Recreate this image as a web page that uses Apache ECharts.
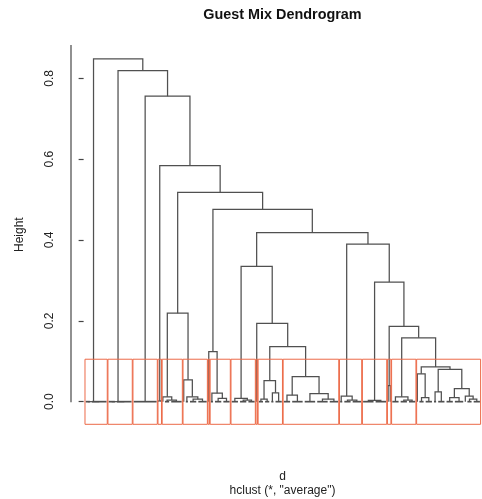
<!DOCTYPE html>
<html><head><meta charset="utf-8">
<script src="https://cdn.jsdelivr.net/npm/echarts@6/dist/echarts.min.js"></script>
<style>html,body{margin:0;padding:0;background:#fff}#c{width:482px;height:499px}</style>
</head><body><div id="c"></div>
<script>
// groups of identical guests (merged at height 0), left to right
const groupSizes = [3,8,4,8,12,1,1,1,3,6,1,2,4,5,1,2,4,4,4,4,4,1,3,3,2,4,4,6,6,6,5,2,4,5,6,6,1,1,4,4,4,1,3,4,2,4,4,5,1,3,4];
// hclust-style merge table: negative = group, positive = earlier merge row (1-based)
const mergeLeft  = [-1,-3,-6,-9,-8,-13,-12,-11,5,-17,-16,-15,-20,-19,-23,-25,15,-27,-30,-29,18,17,-22,14,-33,-32,-35,-37,-40,-39,-43,-42,-45,-47,-50,-49,34,33,32,30,28,27,26,24,12,9,3,-5,2,1];
const mergeRight = [-2,-4,-7,-10,4,-14,6,7,8,-18,10,11,-21,13,-24,-26,16,-28,-31,19,20,21,22,23,-34,25,-36,-38,-41,29,-44,31,-46,-48,-51,35,36,37,38,39,40,41,42,43,44,45,46,47,48,49];
const mergeHeight = [0,0,0.002,0.004,0.012,0.006,0.012,0.054,0.219,0.008,0.021,0.124,0.004,0.008,0.006,0.022,0.052,0.016,0.006,0.020,0.062,0.136,0.194,0.335,0.004,0.014,0.003,0.040,0.004,0.012,0.010,0.069,0.024,0.010,0.006,0.014,0.032,0.080,0.086,0.158,0.186,0.296,0.390,0.418,0.476,0.518,0.584,0.756,0.819,0.848];
const clusterCount = 17;
const yTicks = [0, 0.2, 0.4, 0.6, 0.8];
const yTickLabels = ['0.0', '0.2', '0.4', '0.6', '0.8'];
const titleText = 'Guest Mix Dendrogram';
const xLabel = 'd';
const subLabel = 'hclust (*, "average")';
const yLabel = 'Height';

// ---- layout of the tree (leaf order by traversal, positions = mean of children)
const groupStart = [], groupEnd = [];
const nodePos = {}, nodeH = {}, nodeFirst = {}, nodeLast = {};
let nextLeaf = 1;
function visit(id) { // id < 0 group, id > 0 merge row
  if (id < 0) {
    const g = -id - 1;
    groupStart[g] = nextLeaf; groupEnd[g] = nextLeaf + groupSizes[g] - 1;
    nextLeaf += groupSizes[g];
    nodePos[id] = (groupStart[g] + groupEnd[g]) / 2; nodeH[id] = 0;
    nodeFirst[id] = groupStart[g]; nodeLast[id] = groupEnd[g];
    return;
  }
  const a = mergeLeft[id - 1], b = mergeRight[id - 1];
  visit(a); visit(b);
  nodePos[id] = (nodePos[a] + nodePos[b]) / 2; nodeH[id] = mergeHeight[id - 1];
  nodeFirst[id] = nodeFirst[a]; nodeLast[id] = nodeLast[b];
}
visit(mergeHeight.length);

const baseSegs = [];
groupSizes.forEach((n, g) => { if (n > 1) baseSegs.push([groupStart[g], 0, groupEnd[g], 0, 0]); });
const segs = mergeHeight.map((h, i) => {
  const a = mergeLeft[i], b = mergeRight[i];
  return [nodePos[a], nodeH[a], nodePos[b], nodeH[b], h];
});

// ---- clusters (like cutree / rect.hclust)
const sortedH = mergeHeight.slice().sort((a, b) => b - a);
const rectTop = (sortedH[clusterCount - 2] + sortedH[clusterCount - 1]) / 2;
const upper = new Set();
mergeHeight.map((h, i) => [h, i + 1]).sort((a, b) => b[0] - a[0]).slice(0, clusterCount - 1).forEach(e => upper.add(e[1]));
const clusters = [];
upper.forEach(id => {
  [mergeLeft[id - 1], mergeRight[id - 1]].forEach(c => { if (!upper.has(c)) clusters.push([nodeFirst[c], nodeLast[c]]); });
});
clusters.sort((a, b) => a[0] - b[0]);

const xMin = -6.05, xMax = 191.0, yMin = -0.056, yMax = 0.8825;
const boxes = clusters.map(c => [c[0] - 0.34, c[1] + 0.33, rectTop, yMin]);

const treeColor = '#505050';
const boxColor = '#ec6a48';
const font = 'Liberation Sans, Arial, sans-serif';

function treeItem(width) {
  return (p, api) => {
    const xa = api.value(0), ha = api.value(1), xb = api.value(2), hb = api.value(3), h = api.value(4);
    const pts = [api.coord([xa, ha]), api.coord([xa, h]), api.coord([xb, h]), api.coord([xb, hb])];
    return {type: 'polyline', shape: {points: pts}, style: {stroke: treeColor, lineWidth: width, fill: null}};
  };
}

const chart = echarts.init(document.getElementById('c'), null, {renderer: 'canvas'});
chart.setOption({
  animation: false,
  backgroundColor: '#fff',
  grid: {left: 71, right: 0, top: 45, bottom: 74.7},
  xAxis: {type: 'value', min: xMin, max: xMax, show: false},
  yAxis: {
    type: 'value', min: yMin, max: yMax,
    axisLine: {show: false}, splitLine: {show: false},
    axisTick: {show: true, length: 5, lineStyle: {color: '#444', width: 1.2}, customValues: yTicks},
    axisLabel: {rotate: 90, margin: 15, fontSize: 12, fontFamily: font, color: '#222', customValues: yTicks,
      formatter: v => { const i = yTicks.findIndex(t => Math.abs(t - v) < 1e-9); return i >= 0 ? yTickLabels[i] : ''; }},
    name: yLabel, nameLocation: 'middle', nameGap: 45.5,
    nameTextStyle: {fontSize: 12, fontFamily: font, color: '#222'}
  },
  series: [
    {
      type: 'custom', silent: true, clip: false, data: [[xMin, 0, yMax]],
      renderItem: (p, api) => {
        const a = api.coord([api.value(0), api.value(1)]), b = api.coord([api.value(0), api.value(2)]);
        return {type: 'line', shape: {x1: a[0], y1: a[1] + 0.6, x2: b[0], y2: b[1]}, style: {stroke: '#555', lineWidth: 1.3}};
      }
    },
    {type: 'custom', silent: true, clip: false, data: baseSegs, renderItem: treeItem(1.7)},
    {type: 'custom', silent: true, clip: false, data: segs, renderItem: treeItem(1.25)},
    {
      type: 'custom', silent: true, clip: false, data: boxes,
      renderItem: (p, api) => {
        const a = api.coord([api.value(0), api.value(2)]), b = api.coord([api.value(1), api.value(3)]);
        return {type: 'rect', shape: {x: a[0], y: a[1], width: b[0] - a[0], height: b[1] - a[1]},
          style: {stroke: boxColor, lineWidth: 1, fill: null}};
      }
    }
  ],
  graphic: [
    {type: 'text', x: 282.5, y: 15.3, style: {text: titleText, font: 'bold 14.4px ' + font, fill: '#111', align: 'center', verticalAlign: 'middle', textAlign: 'center', textVerticalAlign: 'middle'}},
    {type: 'text', x: 282.5, y: 476.3, style: {text: xLabel, font: '12px ' + font, fill: '#222', align: 'center', verticalAlign: 'middle', textAlign: 'center', textVerticalAlign: 'middle'}},
    {type: 'text', x: 282.5, y: 490.5, style: {text: subLabel, font: '12px ' + font, fill: '#222', align: 'center', verticalAlign: 'middle', textAlign: 'center', textVerticalAlign: 'middle'}}
  ]
});
</script></body></html>
